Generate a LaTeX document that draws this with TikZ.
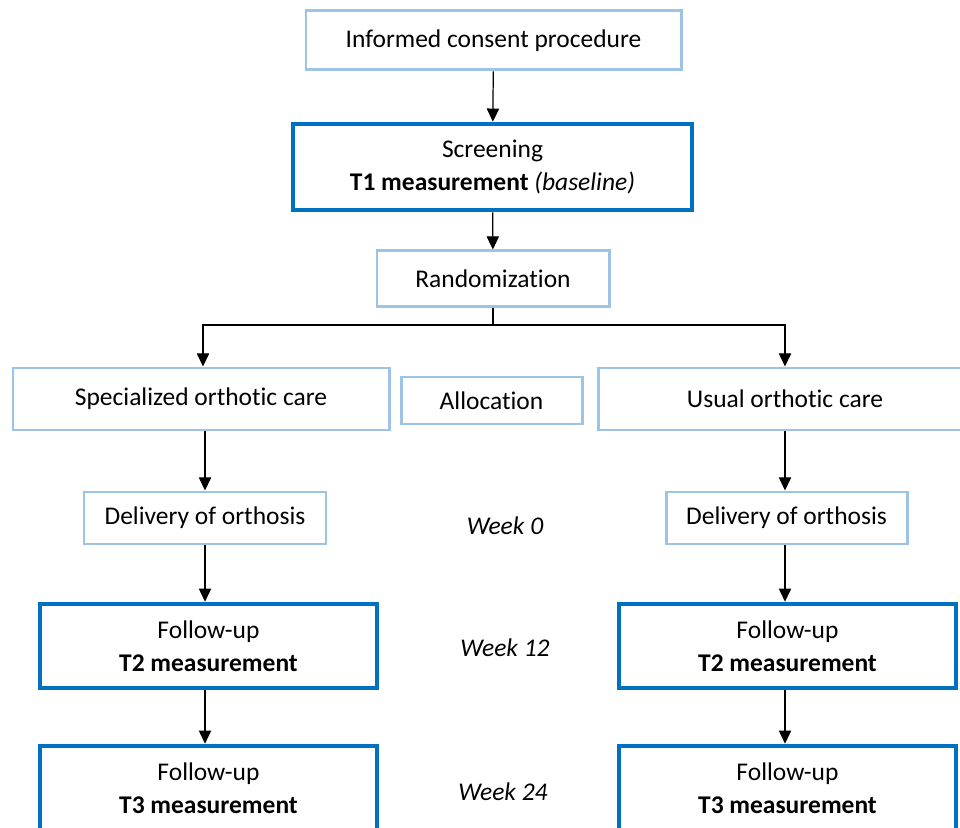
\documentclass[tikz,border=0pt]{standalone}
\usepackage{fontspec}
\setmainfont{Carlito}[RawFeature={-liga;-clig;-calt}]
\usetikzlibrary{arrows.meta}
\definecolor{paleblue}{rgb}{0.616,0.765,0.902}
\definecolor{deepblue}{rgb}{0.0,0.439,0.753}
\tikzset{
  lightbox/.style={draw=paleblue,line width=1.7pt,fill=white,align=center,
                   inner sep=0pt,font=\fontsize{14.5}{18.7}\selectfont},
  darkbox/.style={draw=deepblue,line width=2.6pt,fill=white,align=center,
                  inner sep=0pt,font=\fontsize{14.5}{18.7}\selectfont},
  weeklabel/.style={font=\fontsize{14.5}{17}\selectfont\itshape},
  flow/.style={-{Triangle[length=7.5pt,width=7pt]},line width=0.7pt,black}
}

\begin{document}
\begin{tikzpicture}

\useasboundingbox (0,0) rectangle (19.2,16.54);
\clip (0,0) rectangle (19.2,16.54);

% top part
\node [lightbox,minimum width=7.5cm,minimum height=1.18cm] (consent) at (9.87,15.73)
      {Informed consent procedure};
\node [darkbox,minimum width=7.98cm,minimum height=1.72cm] (screen) at (9.85,13.20)
      {Screening\\\textbf{T1 measurement} \textit{(baseline)}};
\node [lightbox,minimum width=4.64cm,minimum height=1.12cm] (random) at (9.86,10.96)
      {Randomization};

% the two arms
\node [lightbox,minimum width=7.52cm,minimum height=1.24cm] (special) at (4.02,8.56)
      {Specialized orthotic care};
\node [lightbox,minimum width=3.62cm,minimum height=0.94cm] (alloc) at (9.83,8.53)
      {Allocation};
\node [lightbox,minimum width=7.48cm,minimum height=1.24cm] (usual) at (15.70,8.56)
      {Usual orthotic care};

\node [lightbox,minimum width=4.84cm,minimum height=1.04cm] (delivL) at (4.10,6.18)
      {Delivery of orthosis};
\node [lightbox,minimum width=4.82cm,minimum height=1.04cm] (delivR) at (15.73,6.18)
      {Delivery of orthosis};

\node [darkbox,minimum width=6.74cm,minimum height=1.68cm] (followL) at (4.17,3.62)
      {Follow-up\\\textbf{T2 measurement}};
\node [darkbox,minimum width=6.74cm,minimum height=1.68cm] (followR) at (15.75,3.62)
      {Follow-up\\\textbf{T2 measurement}};

\node [darkbox,minimum width=6.74cm,minimum height=1.68cm] (lastL) at (4.17,0.78)
      {Follow-up\\\textbf{T3 measurement}};
\node [darkbox,minimum width=6.74cm,minimum height=1.68cm] (lastR) at (15.75,0.78)
      {Follow-up\\\textbf{T3 measurement}};

% some text
\node [weeklabel] (wk0) at (10.10,6.02) {Week 0};
\node [weeklabel] (wk12) at (10.10,3.58) {Week 12};
\node [weeklabel] (wk24) at (10.06,0.70) {Week 24};

% arrows
\coordinate (split) at (9.86,10.04);
\draw [flow] (consent) -- (screen);
\draw [flow] (screen) -- (random);
\draw [line width=0.7pt] (random.south) -- (split);
\draw [flow] (split) -| ([xshift=0.04cm]special.north);
\draw [flow] (split) -| (usual.north);

\draw [flow] (delivL.north |- special.south) -- (delivL.north);
\draw [flow] (delivL.south) -- (delivL.south |- followL.north);
\draw [flow] (delivL.south |- followL.south) -- (delivL.south |- lastL.north);

\draw [flow] (usual.south) -- (usual.south |- delivR.north);
\draw [flow] (usual.south |- delivR.south) -- (usual.south |- followR.north);
\draw [flow] (usual.south |- followR.south) -- (usual.south |- lastR.north);

\end{tikzpicture}
\end{document}
